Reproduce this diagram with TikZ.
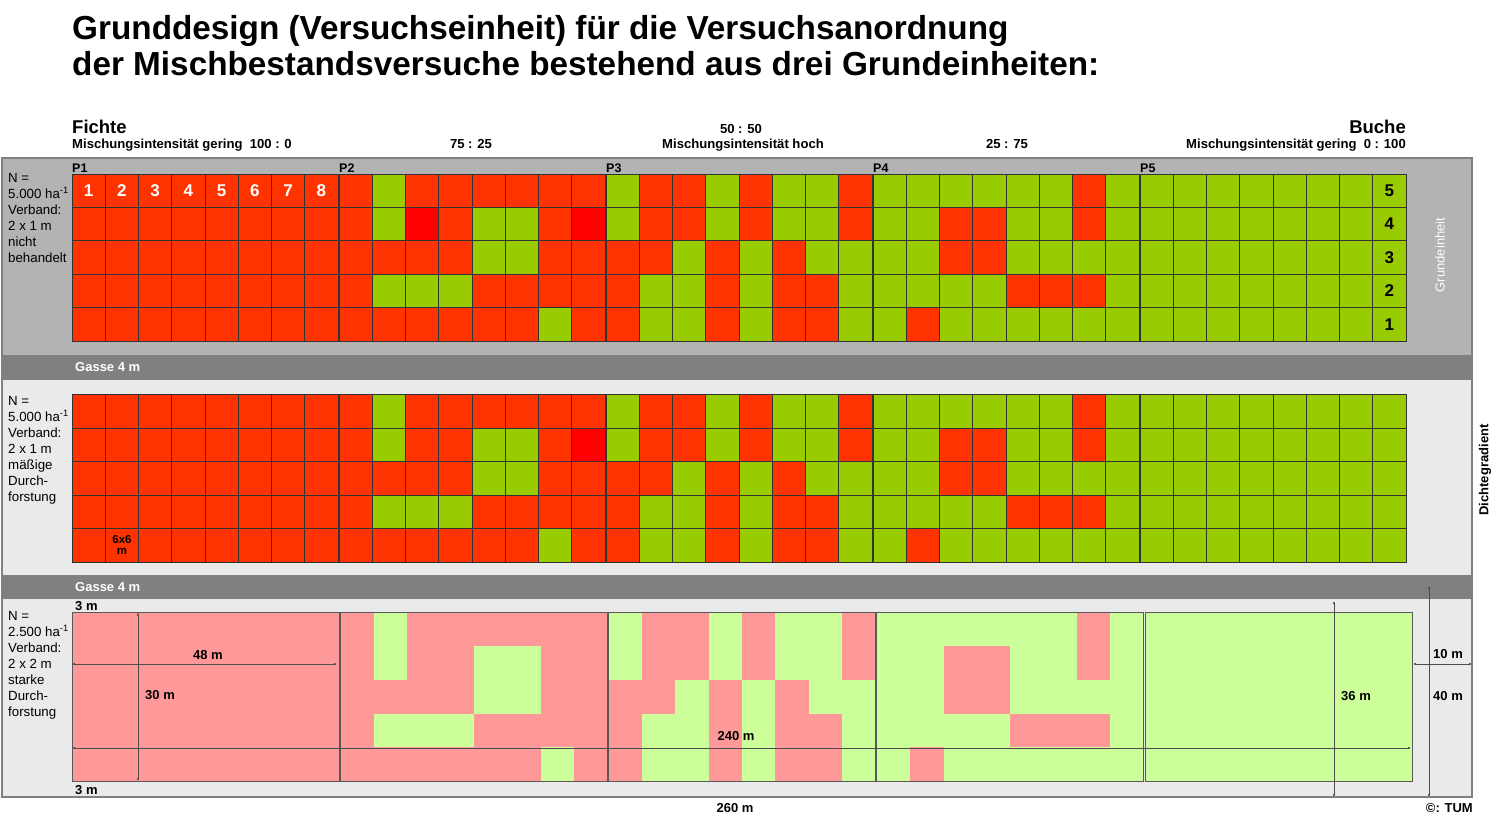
\documentclass[tikz,border=0pt]{standalone}
\usepackage{fontspec}
\setmainfont{Liberation Sans}
\usepackage{xcolor}
\definecolor{obenR}{HTML}{FF3300}
\definecolor{obenG}{HTML}{99CC00}
\definecolor{obenX}{HTML}{FF0000}
\definecolor{obenY}{HTML}{FF0000}
\definecolor{mitteR}{HTML}{FF3300}
\definecolor{mitteG}{HTML}{99CC00}
\definecolor{mitteX}{HTML}{FF0000}
\definecolor{mitteY}{HTML}{FF3300}
\definecolor{untenR}{HTML}{FF9999}
\definecolor{untenG}{HTML}{CCFF99}
\definecolor{untenX}{HTML}{FF9999}
\definecolor{untenY}{HTML}{FF9999}
\definecolor{blockgrau}{HTML}{B3B3B3}
\definecolor{gassegrau}{HTML}{808080}
\definecolor{hellgrau}{HTML}{EAEAEA}
\usepackage{tikz}
\usetikzlibrary{arrows.meta, positioning}

% Parzellen P1 bis P5, je fuenf Reihen zu acht Zellen
\newcommand{\versuchsplan}{%
	{{R,R,R,R,R,R,R,R},{R,R,R,R,R,R,R,R},{R,R,R,R,R,R,R,R},{R,R,R,R,R,R,R,R},{R,R,R,R,R,R,R,R}},
	{{R,G,R,R,R,R,R,R},{R,G,Y,R,G,G,R,X},{R,R,R,R,G,G,R,R},{R,G,G,G,R,R,R,R},{R,R,R,R,R,R,G,R}},
	{{G,R,R,G,R,G,G,R},{G,R,R,G,R,G,G,R},{R,R,G,R,G,R,G,G},{R,G,G,R,G,R,R,G},{R,G,G,R,G,R,R,G}},
	{{G,G,G,G,G,G,R,G},{G,G,R,R,G,G,R,G},{G,G,R,R,G,G,G,G},{G,G,G,G,R,R,R,G},{G,R,G,G,G,G,G,G}},
	{{G,G,G,G,G,G,G,G},{G,G,G,G,G,G,G,G},{G,G,G,G,G,G,G,G},{G,G,G,G,G,G,G,G},{G,G,G,G,G,G,G,G}}}

\begin{document}
\begin{tikzpicture}[x=1pt, y=-1pt,
	titel/.style={anchor=base west, inner sep=0pt, font=\fontsize{33.3}{37}\selectfont\bfseries},
	art/.style={inner sep=0pt, font=\fontsize{18.5}{20}\selectfont\bfseries},
	kopf/.style={inner sep=0pt, font=\fontsize{13.1}{15}\selectfont\bfseries},
	info/.style={anchor=north west, inner sep=0pt, align=left, font=\fontsize{13.3}{16}\selectfont},
	parz/.style={anchor=base west, inner sep=0pt, font=\fontsize{12.5}{14}\selectfont\bfseries},
	nummer/.style={inner sep=0pt, font=\fontsize{17}{17}\selectfont\bfseries},
	gtext/.style={anchor=west, inner sep=0pt, text=white, font=\fontsize{13}{15}\selectfont\bfseries},
	masz/.style={inner sep=0pt, font=\fontsize{13}{15}\selectfont\bfseries},
	maszpfeil/.style={{Latex[length=3pt,width=2.6pt]}-{Latex[length=3pt,width=2.6pt]}, draw=black!70, line width=0.7pt},
	zelle/.style={draw=black!80, line width=0.8pt},
	umriss/.style={draw=black!65, line width=1pt}
	]
\fill[white] (0,0) rectangle (1500,822);
\useasboundingbox (0,0) rectangle (1500,822);

\node[titel] (titel1) at (72,39) {Grunddesign (Versuchseinheit) für die Versuchsanordnung};
\node[titel] (titel2) at (72,75) {der Mischbestandsversuche bestehend aus drei Grundeinheiten:};

\node[art, anchor=base west] (fichte) at (72,133) {Fichte};
\node[kopf, anchor=base west] (gering1) at (72,148) {Mischungsintensität gering\ \ 100 : 0};
\node[kopf, anchor=base] (m7525) at (471,148) {75 : 25};
\node[kopf, anchor=base] (m5050) at (741,133) {50 : 50};
\node[kopf, anchor=base] (hoch) at (743,148) {Mischungsintensität hoch};
\node[kopf, anchor=base] (m2575) at (1007,148) {25 : 75};
\node[art, anchor=base east] (buche) at (1406,133) {Buche};
\node[kopf, anchor=base east] (gering2) at (1406,148) {Mischungsintensität gering\ \ 0 : 100};

% Grundeinheiten und Gassen
\fill[blockgrau] (2,158) rectangle (1472,355);
\fill[gassegrau] (2,355) rectangle (1472,380);
\fill[hellgrau] (2,380) rectangle (1472,575);
\fill[gassegrau] (2,575) rectangle (1472,599);
\fill[hellgrau] (2,599) rectangle (1472,797);
\draw[gassegrau, line width=1.2pt] (2,158) rectangle (1472,797);

\foreach \plan [count=\p from 0] in \versuchsplan {
	\foreach \reihe [count=\r from 0] in \plan {
		\foreach \baum [count=\k from 0] in \reihe {
			\filldraw[zelle, fill=oben\baum] ({72+267*\p+33.25*\k},{174+33.4*\r}) rectangle +(33.25,33.4);
			\filldraw[zelle, fill=mitte\baum] ({72+267*\p+33.25*\k},{394.5+33.5*\r}) rectangle +(33.25,33.5);
			\fill[untenG, fill=unten\baum] ({72+268.25*\p+33.375*\k},{612.5+33.7*\r}) rectangle +(33.375,33.7);
		}
	}
	\draw[umriss] ({72+268.25*\p},612.5) rectangle +(267,168.5);
}

\foreach \p in {1,...,5}
	\node[parz] (p\p) at ({72+267*(\p-1)},172) {P\p};
\foreach \n in {1,...,8}
	\node[nummer, text=white] (nr\n) at ({72+33.25*(\n-0.5)},191) {\n};
\foreach \n in {1,...,5}
	\node[nummer] (ge\n) at (1389.4,{174+33.4*(5.5-\n)}) {\n};

\node[info] (info1) at (8,173) {N =\\5.000 ha\textsuperscript{-1}\\Verband:\\2 x 1 m\\nicht\\behandelt};
\node[info] (info2) at (8,396) {N =\\5.000 ha\textsuperscript{-1}\\Verband:\\2 x 1 m\\mäßige\\Durch-\\forstung};
\node[info] (info3) at (8,611.5) {N =\\2.500 ha\textsuperscript{-1}\\Verband:\\2 x 2 m\\starke\\Durch-\\forstung};

\node[gtext] (gasse1) at (75,367) {Gasse 4 m};
\node[gtext] (gasse2) at (75,587) {Gasse 4 m};
\node[masz, align=center, font=\fontsize{11.5}{11}\selectfont\bfseries] (raster) at (122,545) {6x6\\m};

\node[rotate=90, inner sep=0pt, text=white, font=\fontsize{13}{13}\selectfont] (grundeinheit) at (1440,255) {Grundeinheit};
\node[rotate=90, inner sep=0pt, font=\fontsize{13}{13}\selectfont\bfseries] (dichte) at (1485,470) {Dichtegradient};

% Masse
\coordinate (a30) at (138,612.5);
\coordinate (b30) at (138,781);
\coordinate (a48) at (72,664);
\coordinate (b48) at (337,664);
\coordinate (a240) at (72,748);
\coordinate (b240) at (1411,748);
\coordinate (a36) at (1334,601);
\coordinate (b36) at (1334,797);
\coordinate (a40) at (1429,586);
\coordinate (b40) at (1429,797);
\coordinate (a10) at (1413,664);
\coordinate (b10) at (1472,664);
\draw[maszpfeil] (a30) -- (b30);
\draw[maszpfeil] (a48) -- (b48);
\draw[maszpfeil] (a240) -- (b240);
\draw[maszpfeil] (a36) -- (b36);
\draw[maszpfeil] (a40) -- (b40);
\draw[maszpfeil] (a10) -- (b10);

\node[masz, anchor=west] (drei1) at (75,606.5) {3 m};
\node[masz, anchor=west] (drei2) at (75,790) {3 m};
\node[masz, anchor=west] (l30) at (145,695.5) {30 m};
\node[masz] (l48) at (208,655) {48 m};
\node[masz] (l240) at (736,736) {240 m};
\node[masz] (l36) at (1356,696) {36 m};
\node[masz] (l10) at (1448,654.5) {10 m};
\node[masz] (l40) at (1448,696) {40 m};
\node[masz] (l260) at (735,808) {260 m};
\node[masz, anchor=east] (tum) at (1473,808) {©: TUM};
\end{tikzpicture}
\end{document}
